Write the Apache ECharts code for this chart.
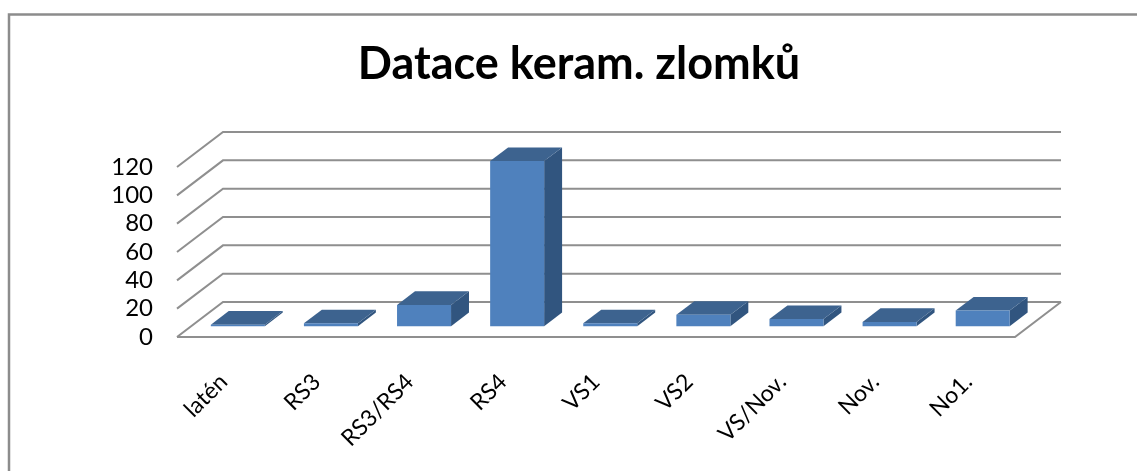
<!DOCTYPE html>
<html><head><meta charset="utf-8">
<style>html,body{margin:0;padding:0;background:#fff}#c{width:1137px;height:471px}</style>
<script src="https://cdn.jsdelivr.net/npm/echarts@6/dist/echarts.min.js"></script>
</head><body><div id="c"></div>
<script>
const chartTitle = 'Datace keram. zlomků';
const categories = ['latén','RS3','RS3/RS4','RS4','VS1','VS2','VS/Nov.','Nov.','No1.'];
const values = [1,2,15,116.5,2,8,5,3,11];
const yTicks = [0,20,40,60,80,100,120];

const FONT = 'Lato, "Open Sans", sans-serif';
const WALL = {dx:46, dy:-35};       // depth of the floor
const BAR = {front:0.31, depth:0.39, width:0.58};
const GRID_COLOR = '#8f8f8f';

const chart = echarts.init(document.getElementById('c'), null, {renderer:'canvas'});

function renderGrid(params, api){
  const cs = params.coordSys;
  const v = api.value(0);
  const y = api.coord([0, v])[1];
  const x0 = cs.x, x1 = cs.x + cs.width;
  const pts = [[x0, y],[x0+WALL.dx, y+WALL.dy],[x1+WALL.dx, y+WALL.dy]];
  const children = [{type:'polyline', shape:{points:pts}, style:{stroke:GRID_COLOR, lineWidth:2, fill:null}}];
  if (v === 0) {
    children.push({type:'polyline',
      shape:{points:[[x0,y],[x1,y],[x1+WALL.dx,y+WALL.dy]]},
      style:{stroke:GRID_COLOR, lineWidth:2, fill:null}});
  }
  return {type:'group', children};
}

function renderBar(params, api){
  const i = api.value(0), v = api.value(1);
  const size = api.size([1,0])[0];
  const c = api.coord([i, 0]);
  const top = api.coord([i, v])[1];
  const h = c[1] - top;
  const w = size * BAR.width;
  const ox = WALL.dx * BAR.front, oy = WALL.dy * BAR.front;
  const dx = WALL.dx * BAR.depth, dy = WALL.dy * BAR.depth;
  const l = c[0] + ox - w/2, r = l + w;
  const b = c[1] + oy, t = b - h;
  return {type:'group', children:[
    {type:'polygon', shape:{points:[[r,b],[r+dx,b+dy],[r+dx,t+dy],[r,t]]}, style:{fill:'#31557f'}},
    {type:'polygon', shape:{points:[[l,t],[r,t],[r+dx,t+dy],[l+dx,t+dy]]}, style:{fill:'#3d638f'}},
    {type:'rect', shape:{x:l, y:t, width:w, height:h}, style:{fill:'#4f81bd'}}
  ]};
}

chart.setOption({
  animation:false,
  backgroundColor:'#fff',
  title:{text:chartTitle, left:574, top:37, textAlign:'center',
    textStyle:{fontFamily:FONT, fontSize:45, fontWeight:'bold', color:'#000'}},
  grid:{left:177, right:122, top:167, bottom:134},
  xAxis:{type:'category', data:categories, boundaryGap:true,
    axisLine:{show:false}, axisTick:{show:false},
    axisLabel:{interval:0, rotate:45, margin:41, fontFamily:FONT, fontSize:23, color:'#000'}},
  yAxis:{type:'value', min:0, max:120, interval:20,
    axisLine:{show:false}, axisTick:{show:false}, splitLine:{show:false},
    axisLabel:{margin:24, padding:[2,0,0,0], fontFamily:FONT, fontSize:24, color:'#000'}},
  graphic:[{type:'polyline', silent:true, z:0,
    shape:{points:[[9,471],[9,14.5],[1137,14.5]]},
    style:{stroke:'#8c8c8c', lineWidth:2.5, fill:null}}],
  series:[
    {type:'custom', name:'grid', renderItem:renderGrid, data:yTicks.map(v=>[v]),
     encode:{y:0}, z:1, silent:true},
    {type:'custom', name:'Datace', renderItem:renderBar,
     data:values.map((v,i)=>[i,v]), encode:{x:0,y:1}, z:2}
  ]
});
</script></body></html>
